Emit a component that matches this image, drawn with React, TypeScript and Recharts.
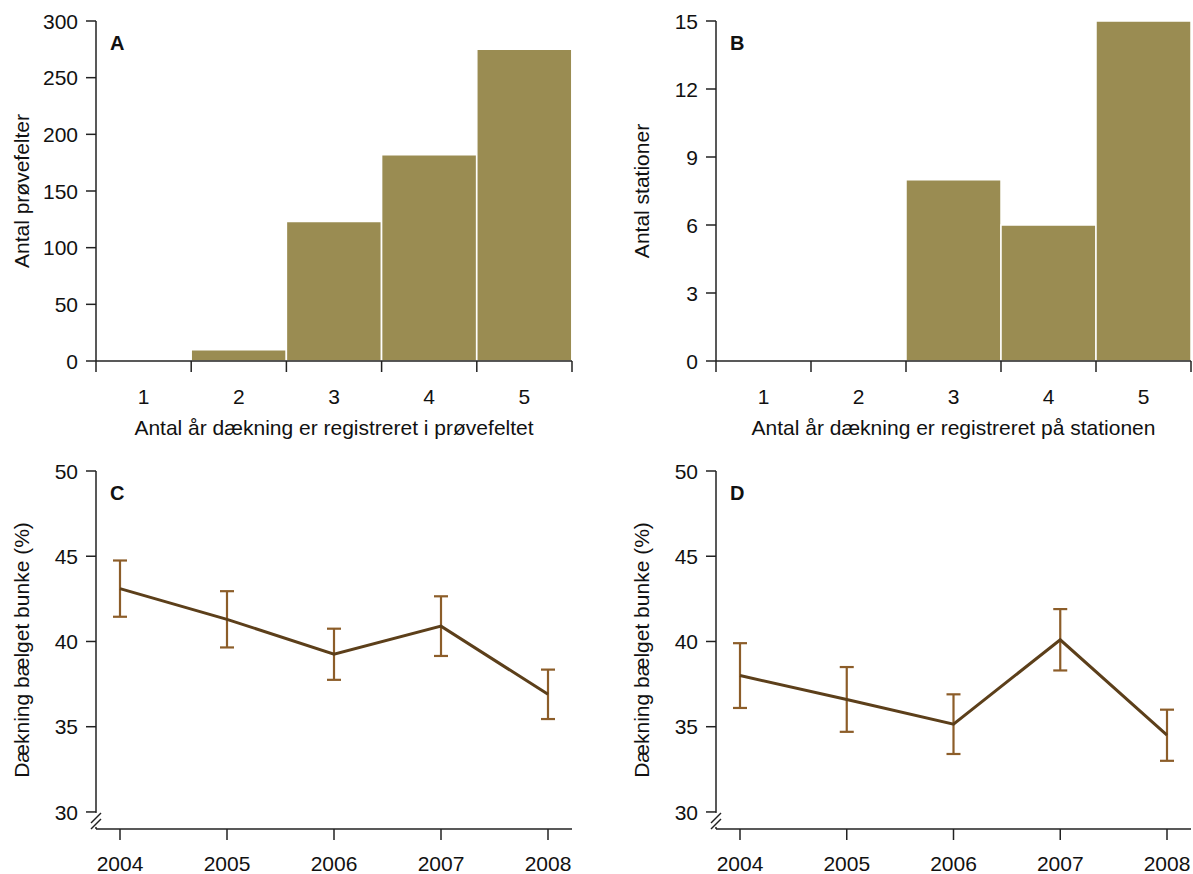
import React from "react";
import { BarChart, Bar, LineChart, Line, XAxis, YAxis, ErrorBar } from "recharts";

// categories and values
const aarKategorier = ["1", "2", "3", "4", "5"];
const antalProevefelter = [0, 10, 123, 182, 275];
const antalStationer = [0, 0, 8, 6, 15];
const proevefeltTicks = [0, 50, 100, 150, 200, 250, 300];
const stationTicks = [0, 3, 6, 9, 12, 15];

const aar = ["2004", "2005", "2006", "2007", "2008"];
const daekningProevefelt = [43.1, 41.3, 39.25, 40.9, 36.9];
const fejlProevefelt = [1.65, 1.65, 1.5, 1.75, 1.45];
const daekningStation = [38.0, 36.6, 35.15, 40.1, 34.5];
const fejlStation = [1.9, 1.9, 1.75, 1.8, 1.5];
const daekningTicks = [30, 35, 40, 45, 50];

const FONT = "'Liberation Sans', Arial, Helvetica, sans-serif";
const FS = 21;
const AXIS = "#222";
const BAR_FILL = "#9a8c52";
const LINE_COLOR = "#5c3f1a";
const ERR_COLOR = "#8c5d29";

const Y_W = 96;
const Y_TICK = 10;
const Y_MARGIN = 8;
const X_TICK = 11;
const X_MARGIN = 14;

const barData = (vals: number[]) => aarKategorier.map((k, i) => ({ k, v: vals[i] }));
const lineData = (vals: number[], err: number[]) => aar.map((y, i) => ({ y, v: vals[i], e: err[i] }));

const BoundaryTick = (props: any) => {
  const { x, y, payload, index, band, count } = props;
  const axisY = y - X_TICK - X_MARGIN;
  const left = x - band / 2;
  return (
    <g>
      <line x1={left} x2={left} y1={axisY} y2={axisY + X_TICK} stroke={AXIS} strokeWidth={1.5} />
      {index === count - 1 && (
        <line x1={left + band} x2={left + band} y1={axisY} y2={axisY + X_TICK} stroke={AXIS} strokeWidth={1.5} />
      )}
      <text x={x} y={axisY + 43} textAnchor="middle" fontSize={FS} fontFamily={FONT} fill="#111">
        {payload.value}
      </text>
    </g>
  );
};

const YearTick = (props: any) => {
  const { x, y, payload } = props;
  const axisY = y - X_TICK - X_MARGIN;
  return (
    <text x={x} y={axisY + 42} textAnchor="middle" fontSize={FS} fontFamily={FONT} fill="#111">
      {payload.value}
    </text>
  );
};

const ValueTick = (props: any) => {
  const { x, y, payload, brk } = props;
  const ax = x + Y_TICK + Y_MARGIN;
  return (
    <g>
      <text x={x} y={y} dy="0.36em" textAnchor="end" fontSize={FS} fontFamily={FONT} fill="#111">
        {payload.value}
      </text>
      {brk && payload.value === brk && (
        <g>
          <rect x={ax - 2} y={y + 1} width={4} height={14} fill="#fff" />
          <line x1={ax - 5} y1={y + 11} x2={ax + 5} y2={y + 1} stroke={AXIS} strokeWidth={1.5} />
          <line x1={ax - 5} y1={y + 17} x2={ax + 5} y2={y + 7} stroke={AXIS} strokeWidth={1.5} />
        </g>
      )}
    </g>
  );
};

// y-axis title plus the panel letter in the plot's top left corner
const YTitle = (props: any) => {
  const { viewBox, text, letter } = props;
  const cx = viewBox.x + 21;
  const cy = viewBox.y + viewBox.height / 2;
  return (
    <g>
      <text
        x={cx}
        y={cy}
        transform={`rotate(-90, ${cx}, ${cy})`}
        textAnchor="middle"
        dominantBaseline="central"
        fontSize={FS}
        fontFamily={FONT}
        fill="#111"
      >
        {text}
      </text>
      <text
        x={viewBox.x + viewBox.width + 14}
        y={viewBox.y + 29}
        fontSize={FS - 1}
        fontWeight="bold"
        fontFamily={FONT}
        fill="#111"
      >
        {letter}
      </text>
    </g>
  );
};

const XTitle = (props: any) => {
  const { viewBox, text } = props;
  return (
    <text
      x={viewBox.x + viewBox.width / 2}
      y={viewBox.y + 74}
      textAnchor="middle"
      fontSize={FS}
      fontFamily={FONT}
      fill="#111"
    >
      {text}
    </text>
  );
};

interface BarPanelProps {
  values: number[];
  ticks: number[];
  letter: string;
  yTitle: string;
  xTitle: string;
  width: number;
}

const BarPanel = ({ values, ticks, letter, yTitle, xTitle, width }: BarPanelProps) => {
  const plotW = width - Y_W - 2;
  return (
    <BarChart
      width={width}
      height={450}
      data={barData(values)}
      margin={{ top: 21, right: 2, bottom: 0, left: 0 }}
      barCategoryGap={0}
      barGap={0}
    >
      <Bar dataKey="v" fill={BAR_FILL} stroke="#fff" strokeWidth={1.5} isAnimationActive={false} />
      <XAxis
        dataKey="k"
        height={89}
        stroke={AXIS}
        strokeWidth={1.5}
        tickLine={false}
        tickSize={X_TICK}
        tickMargin={X_MARGIN}
        interval={0}
        tick={<BoundaryTick band={plotW / aarKategorier.length} count={aarKategorier.length} />}
        label={<XTitle text={xTitle} />}
      />
      <XAxis xAxisId="t" orientation="top" height={0} tick={false} tickLine={false} stroke={AXIS} strokeWidth={1.5} />
      <YAxis
        width={Y_W}
        domain={[ticks[0], ticks[ticks.length - 1]]}
        ticks={ticks}
        interval={0}
        stroke={AXIS}
        strokeWidth={1.5}
        tickSize={Y_TICK}
        tickMargin={Y_MARGIN}
        tick={<ValueTick />}
        label={<YTitle text={yTitle} letter={letter} />}
      />
      <YAxis yAxisId="r" orientation="right" width={0} tick={false} tickLine={false} stroke={AXIS} strokeWidth={1.5} />
    </BarChart>
  );
};

interface LinePanelProps {
  values: number[];
  errors: number[];
  letter: string;
  width: number;
}

const LinePanel = ({ values, errors, letter, width }: LinePanelProps) => (
  <LineChart
    width={width}
    height={424}
    data={lineData(values, errors)}
    margin={{ top: 21, right: 2, bottom: 0, left: 0 }}
  >
    <Line
      dataKey="v"
      stroke={LINE_COLOR}
      strokeWidth={3}
      dot={false}
      activeDot={false}
      type="linear"
      isAnimationActive={false}
    >
      <ErrorBar dataKey="e" direction="y" width={7} stroke={ERR_COLOR} strokeWidth={2.2} isAnimationActive={false} />
    </Line>
    <XAxis
      dataKey="y"
      height={45}
      padding={{ left: 24, right: 24 }}
      stroke={AXIS}
      strokeWidth={1.5}
      tickSize={X_TICK}
      tickMargin={X_MARGIN}
      interval={0}
      tick={<YearTick />}
    />
    <XAxis xAxisId="t" orientation="top" height={0} tick={false} tickLine={false} stroke={AXIS} strokeWidth={1.5} />
    <YAxis
      width={Y_W}
      domain={[29, 50]}
      ticks={daekningTicks}
      interval={0}
      allowDataOverflow
      stroke={AXIS}
      strokeWidth={1.5}
      tickSize={Y_TICK}
      tickMargin={Y_MARGIN}
      tick={<ValueTick brk={30} />}
      label={<YTitle text="Dækning bælget bunke (%)" letter={letter} />}
    />
    <YAxis yAxisId="r" orientation="right" width={0} tick={false} tickLine={false} stroke={AXIS} strokeWidth={1.5} />
  </LineChart>
);

export default function App() {
  return (
    <div
      style={{
        position: "absolute",
        left: 0,
        top: 0,
        width: 1193,
        height: 874,
        overflow: "hidden",
        background: "#fff",
        fontFamily: FONT,
      }}
    >
      <div style={{ position: "absolute", left: 0, top: 0 }}>
        <BarPanel
          values={antalProevefelter}
          ticks={proevefeltTicks}
          letter="A"
          yTitle="Antal prøvefelter"
          xTitle="Antal år dækning er registreret i prøvefeltet"
          width={574}
        />
      </div>
      <div style={{ position: "absolute", left: 620, top: 0 }}>
        <BarPanel
          values={antalStationer}
          ticks={stationTicks}
          letter="B"
          yTitle="Antal stationer"
          xTitle="Antal år dækning er registreret på stationen"
          width={573}
        />
      </div>
      <div style={{ position: "absolute", left: 0, top: 450 }}>
        <LinePanel values={daekningProevefelt} errors={fejlProevefelt} letter="C" width={574} />
      </div>
      <div style={{ position: "absolute", left: 620, top: 450 }}>
        <LinePanel values={daekningStation} errors={fejlStation} letter="D" width={573} />
      </div>
    </div>
  );
}
